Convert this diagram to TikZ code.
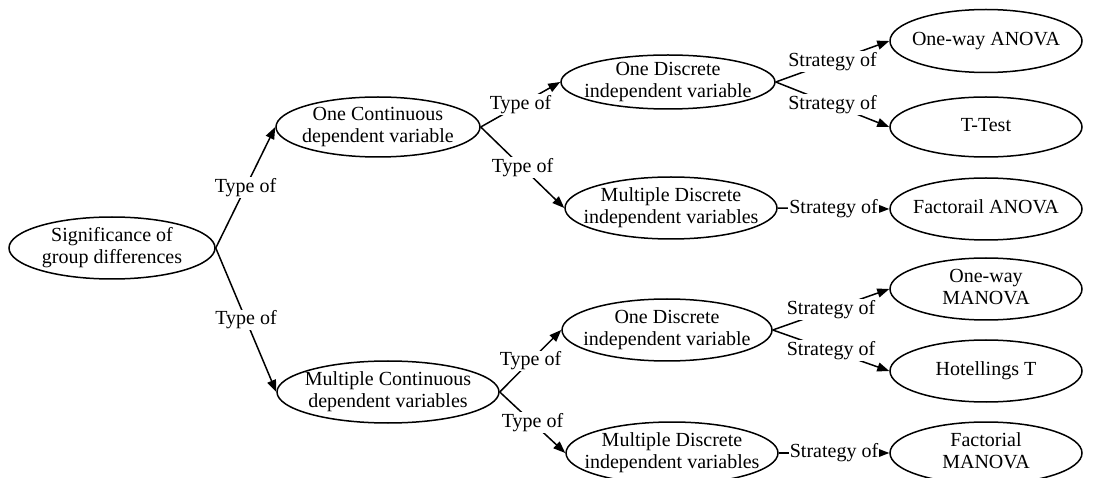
\documentclass[tikz,border=0pt]{standalone}
\usepackage{fontspec}
\setmainfont{Liberation Serif}
\usetikzlibrary{shapes.geometric,arrows.meta}
\newcommand\ctext[1]{\raisebox{-5pt}[0pt][0pt]{\makebox[0pt]{\begin{tabular}[c]{@{}c@{}}#1\end{tabular}}}}
\begin{document}
\begin{tikzpicture}[x=1pt,y=-1pt,
  ell/.style 2 args={ellipse,draw,line width=1.5pt,inner sep=0pt,minimum width=#1,minimum height=#2},
  lbl/.style={fill=white,inner sep=1pt,font=\fontsize{20}{22}\selectfont},
  conn/.style={line width=1.5pt,-{Triangle[length=12pt,width=9pt]}},
  every node/.append style={font=\fontsize{20}{22}\selectfont}]
\useasboundingbox (0,0) rectangle (1109,478);
\node[ell={206}{62}] (root) at (112,248) {\ctext{Significance of\\group differences}};
\node[ell={204}{60}] (oc) at (378,127) {\ctext{One Continuous\\dependent variable}};
\node[ell={222}{62}] (mc) at (388,392) {\ctext{Multiple Continuous\\dependent variables}};
\node[ell={214}{54}] (odA) at (668,82) {\ctext{One Discrete\\independent variable}};
\node[ell={212}{62}] (mdA) at (671,208) {\ctext{Multiple Discrete\\independent variables}};
\node[ell={210}{62}] (odB) at (667,330) {\ctext{One Discrete\\independent variable}};
\node[ell={212}{62}] (mdB) at (672,453) {\ctext{Multiple Discrete\\independent variables}};
\node[ell={192}{63}] (anova) at (986,41) {\ctext{One-way ANOVA}};
\node[ell={192}{60}] (ttest) at (986,127) {\ctext{T-Test}};
\node[ell={192}{62}] (fanova) at (986,209) {\ctext{Factorail ANOVA}};
\node[ell={192}{62}] (manova) at (986,289) {\ctext{One-way\\MANOVA}};
\node[ell={192}{62}] (hot) at (986,371) {\ctext{Hotellings T}};
\node[ell={192}{62}] (fmanova) at (986,453) {\ctext{Factorial\\MANOVA}};
\draw[conn] (root.east) -- node[lbl]{Type of} (oc.west);
\draw[conn] (root.east) -- node[lbl]{Type of} (mc.west);
\draw[conn] (oc.east) -- node[lbl]{Type of} (odA.west);
\draw[conn] (oc.east) -- node[lbl]{Type of} (mdA.west);
\draw[conn] (mc.east) -- node[lbl]{Type of} (odB.west);
\draw[conn] (mc.east) -- node[lbl]{Type of} (mdB.west);
\draw[conn] (odA.east) -- node[lbl]{Strategy of} (anova.west);
\draw[conn] (odA.east) -- node[lbl]{Strategy of} (ttest.west);
\draw[conn] (mdA.east) -- node[lbl]{Strategy of} (fanova.west);
\draw[conn] (odB.east) -- node[lbl]{Strategy of} (manova.west);
\draw[conn] (odB.east) -- node[lbl]{Strategy of} (hot.west);
\draw[conn] (mdB.east) -- node[lbl]{Strategy of} (fmanova.west);
\end{tikzpicture}
\end{document}
